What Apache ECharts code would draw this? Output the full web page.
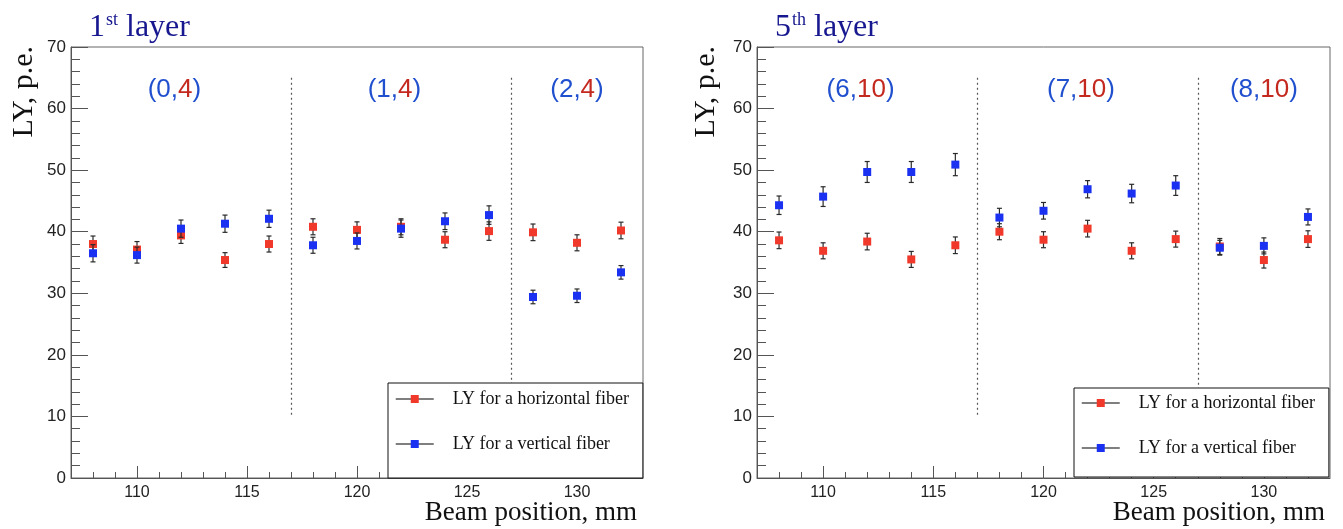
<!DOCTYPE html>
<html><head><meta charset="utf-8">
<script src="https://cdn.jsdelivr.net/npm/echarts@6/dist/echarts.min.js"></script>
<style>html,body{margin:0;padding:0;background:#fff}#c{width:1343px;height:529px}</style>
</head><body><div id="c"></div>
<script>
// ---------- data ----------
const beamPos = [108,110,112,114,116,118,120,122,124,126,128,130,132];
const l1Horizontal    = [38.0,37.1,39.4,35.4,38.0,40.8,40.3,40.8,38.7,40.1,39.9,38.2,40.2];
const l1HorizontalErr = [1.3,1.3,1.3,1.2,1.3,1.3,1.3,1.3,1.3,1.5,1.35,1.3,1.35];
const l1Vertical      = [36.5,36.2,40.5,41.3,42.1,37.8,38.5,40.5,41.7,42.7,29.4,29.6,33.4];
const l1VerticalErr   = [1.4,1.3,1.4,1.4,1.4,1.3,1.3,1.4,1.35,1.5,1.1,1.1,1.1];
const l5Horizontal    = [38.6,36.9,38.4,35.5,37.8,40.0,38.7,40.5,36.9,38.8,37.6,35.4,38.8];
const l5HorizontalErr = [1.35,1.3,1.35,1.3,1.35,1.3,1.3,1.35,1.3,1.3,1.3,1.3,1.35];
const l5Vertical      = [44.3,45.7,49.7,49.7,50.9,42.3,43.4,46.9,46.2,47.5,37.4,37.7,42.4];
const l5VerticalErr   = [1.5,1.6,1.7,1.7,1.8,1.5,1.35,1.4,1.5,1.6,1.2,1.3,1.3];
const xMajorTicks = [110,115,120,125,130];
const xMinorTicks = [108,109,111,112,113,114,116,117,118,119,121,122,123,124,126,127,128,129,131,132];
const boundaries = [117,127];
const boundarySpan = [10,65];
const groupsLayer1 = [['0','4'],['1','4'],['2','4']];
const groupsLayer5 = [['6','10'],['7','10'],['8','10']];
const seriesNames = ['LY for a horizontal fiber','LY for a vertical fiber'];
const panelTitles = [['1','st',' layer'],['5','th',' layer']];
const yAxisTitle = 'LY, p.e.';
const xAxisTitle = 'Beam position, mm';

// ---------- style / layout ----------
const RED = '#f0392b', BLUE = '#1b31f2', NUM_RED = '#c4291f', NUM_BLUE = '#2150cf', TITLE = '#17188f';
const SERIF = '"Liberation Serif","DejaVu Serif",serif';
const SANS = '"Liberation Sans",Arial,sans-serif';
const grids = [
  {left: 71, top: 47, width: 572, height: 431},
  {left: 757, top: 47, width: 573, height: 431}
];
const groupPosX = [111.7, 121.7, 130.0];
const groupPosY = 63.0;

function zipErr(xs, ys, es) { return xs.map((x, i) => [x, ys[i], es[i]]); }
function zip(xs, ys) { return xs.map((x, i) => [x, ys[i]]); }

function errRender(params, api) {
  const x = api.value(0), y = api.value(1), e = api.value(2);
  const top = api.coord([x, y + e]), bot = api.coord([x, y - e]);
  const c = 2.5;
  const st = {stroke: '#2a2a2a', lineWidth: 1.2};
  return {type: 'group', children: [
    {type: 'line', shape: {x1: top[0], y1: top[1], x2: bot[0], y2: bot[1]}, style: st},
    {type: 'line', shape: {x1: top[0] - c, y1: top[1], x2: top[0] + c, y2: top[1]}, style: st},
    {type: 'line', shape: {x1: bot[0] - c, y1: bot[1], x2: bot[0] + c, y2: bot[1]}, style: st}
  ]};
}

const panels = [
  {h: l1Horizontal, he: l1HorizontalErr, v: l1Vertical, ve: l1VerticalErr, groups: groupsLayer1},
  {h: l5Horizontal, he: l5HorizontalErr, v: l5Vertical, ve: l5VerticalErr, groups: groupsLayer5}
];

const xAxes = [], yAxes = [], series = [], titles = [], legends = [], graphics = [];
const legendCfg = [
  {left: 388, top: 383, padding: [7, 14, 25, 7]},
  {left: 1074, top: 388, padding: [6, 14, 20, 7]}
];
const titleLeft = [89, 775];
const yTitleX = [24, 706];
const xTitleRight = [637, 1325];

panels.forEach((p, i) => {
  xAxes.push({
    gridIndex: i, type: 'value', min: 107, max: 133, position: 'bottom',
    axisLine: {onZero: false, lineStyle: {color: '#555', width: 1}},
    splitLine: {show: false},
    axisTick: {inside: true, length: 12, customValues: xMajorTicks, lineStyle: {color: '#555'}},
    axisLabel: {customValues: xMajorTicks, fontFamily: SANS, fontSize: 16, color: '#222', margin: 7}
  });
  xAxes.push({
    gridIndex: i, type: 'value', min: 107, max: 133, position: 'bottom',
    axisLine: {show: false}, splitLine: {show: false}, axisLabel: {show: false},
    axisTick: {inside: true, length: 6, customValues: xMinorTicks, lineStyle: {color: '#555'}}
  });
  yAxes.push({
    gridIndex: i, type: 'value', min: 0, max: 70, interval: 10,
    axisLine: {show: true, onZero: false, lineStyle: {color: '#555', width: 1}},
    splitLine: {show: false},
    axisTick: {show: true, inside: true, length: 17, lineStyle: {color: '#555'}},
    minorTick: {show: true, splitNumber: 5, length: 9, lineStyle: {color: '#555'}},
    axisLabel: {fontFamily: SANS, fontSize: 17, color: '#222', margin: 5}
  });
  const xi = i * 2;
  series.push({
    type: 'custom', xAxisIndex: xi, yAxisIndex: i, z: 2, silent: true,
    renderItem: errRender, data: zipErr(beamPos, p.h, p.he), encode: {x: 0, y: 1}
  });
  series.push({
    name: seriesNames[0], type: 'line', xAxisIndex: xi, yAxisIndex: i, z: 3,
    data: zip(beamPos, p.h), symbol: 'rect', symbolSize: 8, showSymbol: true,
    lineStyle: {opacity: 0}, itemStyle: {color: RED}, silent: true,
    markLine: {
      silent: true, symbol: 'none', animation: false,
      lineStyle: {color: '#555', type: [2, 3], width: 1.2},
      label: {show: false},
      data: boundaries.map(b => [{coord: [b, boundarySpan[1]]}, {coord: [b, boundarySpan[0]]}])
    },
    markPoint: {
      silent: true, symbol: 'rect', symbolSize: 0, animation: false,
      data: p.groups.map((g, k) => ({
        coord: [groupPosX[k], groupPosY],
        label: {
          show: true, position: 'inside',
          formatter: '{b|(' + g[0] + ',}{r|' + g[1] + '}{b|)}',
          rich: {
            b: {fontFamily: SANS, fontSize: 26, color: NUM_BLUE},
            r: {fontFamily: SANS, fontSize: 26, color: NUM_RED}
          }
        }
      }))
    }
  });
  series.push({
    type: 'custom', xAxisIndex: xi, yAxisIndex: i, z: 4, silent: true,
    renderItem: errRender, data: zipErr(beamPos, p.v, p.ve), encode: {x: 0, y: 1}
  });
  series.push({
    name: seriesNames[1], type: 'line', xAxisIndex: xi, yAxisIndex: i, z: 5,
    data: zip(beamPos, p.v), symbol: 'rect', symbolSize: 8, showSymbol: true,
    lineStyle: {opacity: 0}, itemStyle: {color: BLUE}, silent: true
  });
  const t = panelTitles[i];
  titles.push({
    text: '{n|' + t[0] + '}{s|' + t[1] + '}{n|' + t[2] + '}',
    left: titleLeft[i], top: 8, padding: 0,
    textStyle: {fontWeight: 'normal', rich: {
      n: {fontFamily: SERIF, fontSize: 32, fontWeight: 'normal', color: TITLE, lineHeight: 36, verticalAlign: 'bottom'},
      s: {fontFamily: SERIF, fontSize: 18, fontWeight: 'normal', color: TITLE, lineHeight: 36, verticalAlign: 'top', padding: [3, 0, 0, 1]}
    }}
  });
  legends.push({
    left: legendCfg[i].left, top: legendCfg[i].top, orient: 'vertical',
    itemWidth: 38, itemHeight: 10, itemGap: 27,
    padding: legendCfg[i].padding,
    borderColor: '#111', borderWidth: 1, backgroundColor: '#fff', borderRadius: 0,
    selectedMode: false, z: 10,
    data: [
      {name: seriesNames[0], itemStyle: {color: RED}, lineStyle: {color: '#555', width: 1.5, opacity: 1}},
      {name: seriesNames[1], itemStyle: {color: BLUE}, lineStyle: {color: '#555', width: 1.5, opacity: 1}}
    ],
    textStyle: {fontFamily: SERIF, fontSize: 18, color: '#111', padding: [0, 0, 0, 14]}
  });
  graphics.push({
    type: 'text', x: yTitleX[i], y: 46, rotation: Math.PI / 2,
    style: {text: yAxisTitle, font: '30px ' + SERIF, fill: '#111', align: 'right', verticalAlign: 'middle'}
  });
  graphics.push({
    type: 'text', x: xTitleRight[i], y: 513,
    style: {text: xAxisTitle, font: '27px ' + SERIF, fill: '#111', align: 'right', verticalAlign: 'middle'}
  });
});

const chart = echarts.init(document.getElementById('c'), null, {renderer: 'canvas'});
chart.setOption({
  animation: false,
  backgroundColor: '#fff',
  title: titles,
  legend: legends,
  grid: grids.map(g => Object.assign({show: true, borderColor: '#666', borderWidth: 1, backgroundColor: 'transparent'}, g)),
  xAxis: xAxes,
  yAxis: yAxes,
  series: series,
  graphic: graphics
});
</script></body></html>
